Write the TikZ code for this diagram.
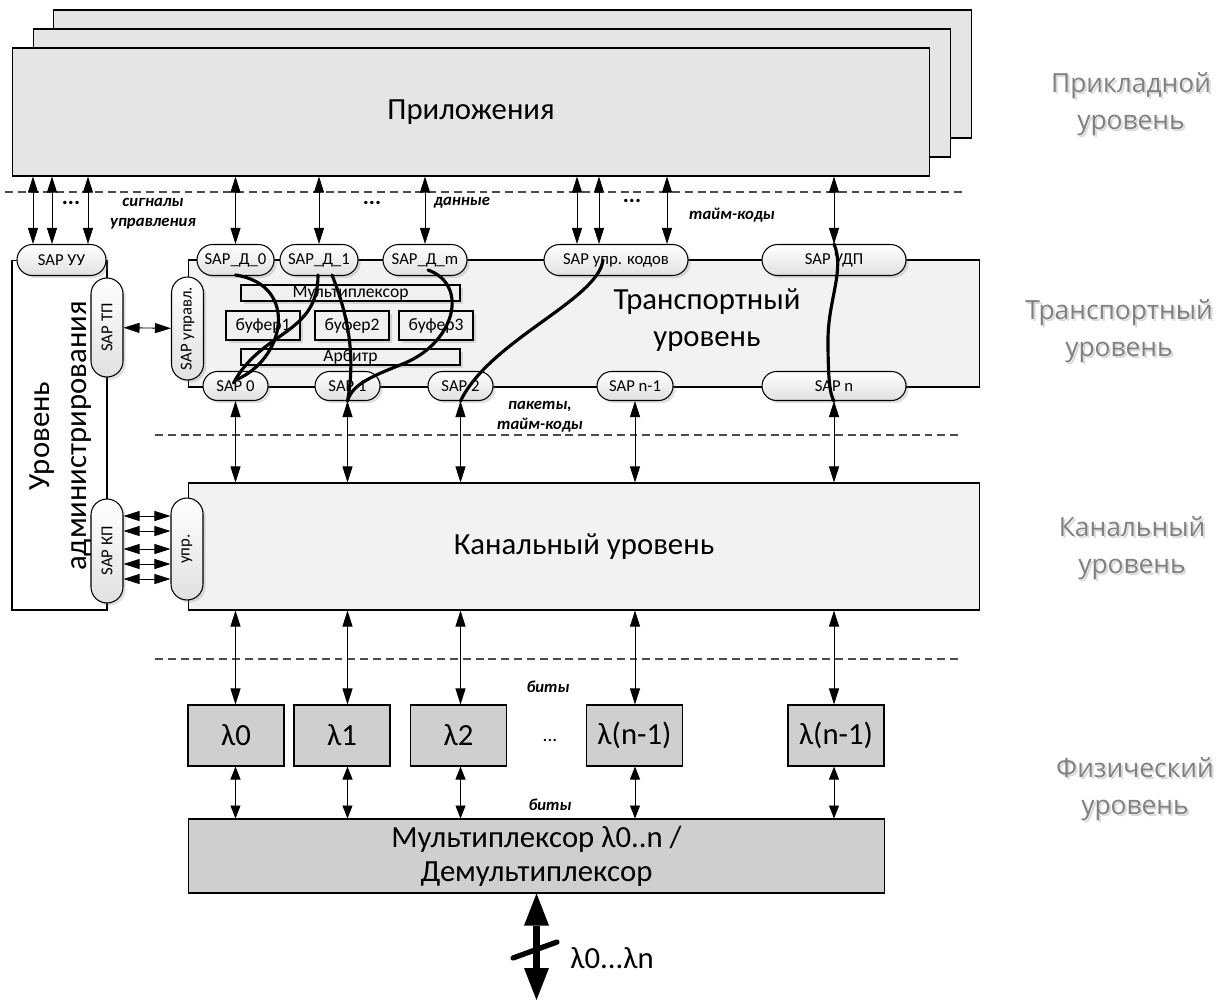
\documentclass[tikz,border=0pt]{standalone}
\usepackage{fontspec}
\setmainfont{Carlito}
\newfontfamily\lvlfont{Open Sans}
\usetikzlibrary{calc,arrows.meta,shapes.misc,shadows}

\begin{document}
\begin{tikzpicture}[
  x=0.02cm, y=-0.02cm,
  >={Triangle[length=0.32cm,width=0.2cm]},
  box/.style={rectangle, draw=black, line width=0.6pt, inner sep=0pt},
  appbox/.style={box, fill=black!10, minimum width=18.36cm, minimum height=2.56cm},
  layer/.style={box, fill=black!5, minimum width=15.84cm, minimum height=2.54cm},
  big/.style={font=\fontsize{17.5}{21}\selectfont},
  sap/.style={rounded rectangle, draw=black, line width=0.6pt, inner sep=0pt,
    top color=white, bottom color=black!12, minimum height=0.62cm,
    font=\fontsize{9.5}{11}\selectfont,
    drop shadow={opacity=0.25, shadow xshift=1.5pt, shadow yshift=-1.5pt}},
  vsap/.style={sap, rotate=90, minimum height=0.64cm},
  inbox/.style={box, fill=black!6, font=\fontsize{10}{12}\selectfont,
    drop shadow={opacity=0.25, shadow xshift=1.5pt, shadow yshift=-1.5pt}},
  thinbox/.style={inbox, minimum width=4.38cm, minimum height=0.32cm, text height=5pt, text depth=0pt},
  bufbox/.style={inbox, minimum width=1.48cm, minimum height=0.58cm},
  lam/.style={box, big, fill=black!19, minimum width=1.92cm, minimum height=1.22cm},
  darr/.style={<->, line width=0.5pt},
  sarr/.style={<->, line width=0.5pt, >={Triangle[length=0.26cm,width=0.2cm]}},
  fatarr/.style={<->, line width=4.5pt, >={Triangle[length=0.64cm,width=0.5cm,line width=0pt]}},
  sep/.style={draw=black!70, line width=0.6pt, dash pattern=on 4.5pt off 2.8pt},
  wire/.style={line width=1.8pt, line cap=round},
  note/.style={font=\fontsize{9.5}{11.5}\selectfont\bfseries\itshape, align=center, inner sep=0pt},
  dots/.style={font=\fontsize{13}{15}\selectfont\bfseries, inner sep=0pt},
  lvl/.style={text=black!50, font=\lvlfont\fontsize{15}{21}\selectfont, align=center},
  lvlsh/.style={lvl, text=black!15},
]
\useasboundingbox (0,0) rectangle (1222,1001);

% ------------------------------------------------------------------
% application layer
% ------------------------------------------------------------------
\node[appbox] (app3) at (512.5,74) {};
\node[appbox] (app2) at (492,93) {};
\node[appbox, big] (app) at (471,112) {Приложения};

% separators between the layers
\draw[sep] (5,192) -- (965,192);
\draw[sep] (155,435) -- (958,435);
\draw[sep] (155,659) -- (958,659);

% ------------------------------------------------------------------
% transport, admin and channel layers
% ------------------------------------------------------------------
\node[layer] (trans) at (584,323.5) {};
\node[box, fill=white, minimum width=1.9cm, minimum height=7cm] (admin) at (59.5,435) {};
\node[layer, big] (chan) at (584,546.5) {Канальный уровень};

\node[big, align=center] (trtext) at (707,320) {Транспортный\\уровень};
\node[big, align=center, rotate=90] (admtext) at (61,436) {Уровень\\администрирования};

% inner blocks of the transport layer
\node[thinbox] (muxin) at (350.5,293) {Мультиплексор};
\node[bufbox] (buf1) at (263,325.5) {буфер1};
\node[bufbox] (buf2) at (352,325.5) {буфер2};
\node[bufbox] (buf3) at (436,325.5) {буфер3};
\node[thinbox] (arb) at (350.5,357) {Арбитр};

% service access points, upper row
\node[sap, minimum width=1.78cm] (sapuu) at (61.5,260) {SAP УУ};
\node[sap, minimum width=1.54cm] (sapd0) at (235.5,260) {SAP\_Д\_0};
\node[sap, minimum width=1.56cm] (sapd1) at (319,260) {SAP\_Д\_1};
\node[sap, minimum width=1.68cm] (sapdm) at (425,260) {SAP\_Д\_m};
\node[sap, minimum width=2.88cm] (sapkod) at (616,260) {SAP упр. кодов};
\node[sap, minimum width=2.88cm] (sapudp) at (834,260) {SAP УДП};

% service access points, lower row
\node[sap, minimum width=1.3cm, minimum height=0.58cm] (sap0) at (235.5,386) {SAP 0};
\node[sap, minimum width=1.3cm, minimum height=0.58cm] (sap1) at (347.5,386) {SAP 1};
\node[sap, minimum width=1.3cm, minimum height=0.58cm] (sap2) at (460.5,386) {SAP 2};
\node[sap, minimum width=1.52cm, minimum height=0.58cm] (sapn1) at (635,386) {SAP n-1};
\node[sap, minimum width=2.88cm, minimum height=0.58cm] (sapn) at (834,386) {SAP n};

% vertical access points
\node[vsap, minimum width=2.06cm] (sapupr) at (187.5,328.5) {SAP управл.};
\node[vsap, minimum width=1.98cm] (saptp) at (107,327.5) {SAP ТП};
\node[vsap, minimum width=2.08cm] (sapkp) at (107,551) {SAP КП};
\node[vsap, minimum width=2.04cm] (upr) at (187,549) {упр.};

% ------------------------------------------------------------------
% physical layer
% ------------------------------------------------------------------
\node[lam] (lam0) at (236,735.5) {λ0};
\node[lam] (lam1) at (342,735.5) {λ1};
\node[lam] (lam2) at (458.5,735.5) {λ2};
\node[lam] (lamn1) at (634.5,735.5) {λ(n-1)};
\node[lam] (lamn) at (836,735.5) {λ(n-1)};
\node[font=\fontsize{11}{13}\selectfont] (dotslam) at (550,740) {...};

\node[box, big, fill=black!19, minimum width=13.94cm, minimum height=1.48cm,
      align=center, font=\fontsize{17.5}{19.5}\selectfont] (demux) at (536.5,856)
      {Мультиплексор λ0..n /\\Демультиплексор};
\coordinate (fiber) at (536.5,1000);
\coordinate (cut) at (535,950);

% ------------------------------------------------------------------
% arrows
% ------------------------------------------------------------------
\foreach \xx in {33,52,88}
  \draw[darr] (app.south -| \xx,0) -- (sapuu.north -| \xx,0);
\foreach \s in {sapd0,sapd1,sapdm,sapudp}
  \draw[darr] (app.south -| \s.north) -- (\s.north);
\foreach \xx in {577,599,667}
  \draw[darr] (app.south -| \xx,0) -- (sapkod.north -| \xx,0);

\foreach \s in {sap0,sap1,sap2,sapn1,sapn}
  \draw[darr] (\s.south) -- (chan.north -| \s.south);
\foreach \s/\l in {sap0/lam0,sap1/lam1,sap2/lam2,sapn1/lamn1,sapn/lamn} {
  \draw[darr] (chan.south -| \s.south) -- (\l.north -| \s.south);
  \draw[sarr] (\l.south -| \s.south) -- (demux.north -| \s.south);
}

\draw[darr] (saptp) -- (sapupr);
\foreach \yy in {516,531,549,564,579}
  \draw[darr] (sapkp.south |- 0,\yy) -- (upr.north |- 0,\yy);

\draw[fatarr] (demux.south) -- (fiber);
\draw[line width=3pt, line cap=round] ($(cut)+(-22,8)$) -- ($(cut)+(22,-8)$);
\node[big] (lblfiber) at (612,958) {λ0...λn};

% connections through the transport layer
\draw[wire] ($(sapd0.center)+(0,15)$) .. controls (300,285) and (285,360) .. ($(sap0.center)+(0,-6)$);
\draw[wire] ($(sapd1.center)+(-1,15)$) .. controls (318,335) and (262,330) .. ($(sap0.center)+(-2,-3)$);
\draw[wire] ($(sapd1.center)+(13,15)$) .. controls (350,320) and (355,360) .. (sap1.south);
\draw[wire] ($(sapdm.center)+(3,10)$) .. controls (470,285) and (455,345) .. (400,365)
  .. controls (370,377) and (352,385) .. (sap1.south);
\draw[wire] ($(sapkod.center)+(-13,0)$) .. controls (598,300) and (490,340) .. (sap2.south);
\draw[wire] (sapudp.north) .. controls (845,270) and (828,300) .. (828,340)
  .. controls (828,380) and (830,395) .. (sapn.south);

% ------------------------------------------------------------------
% labels
% ------------------------------------------------------------------
\node[dots] (dots1) at (71,203) {...};
\node[dots] (dots2) at (372,203) {...};
\node[dots] (dots3) at (632,201) {...};
\node[note] (lblsig) at (153,214) {сигналы\\управления};
\node[note] (lbldata) at (462,203) {данные};
\node[note] (lbltime) at (732,215) {тайм-коды};
\node[note] (lblpack) at (540,417) {пакеты,\\тайм-коды};
\node[note] (lblbit1) at (548,687) {биты};
\node[note] (lblbit2) at (550,805) {биты};

\node[lvlsh] at (1133,106) {Прикладной\\уровень};
\node[lvl] (lvlapp) at (1131,104) {Прикладной\\уровень};
\node[lvlsh] at (1121,333) {Транспортный\\уровень};
\node[lvl] (lvltr) at (1119,331) {Транспортный\\уровень};
\node[lvlsh] at (1134,550.5) {Канальный\\уровень};
\node[lvl] (lvlch) at (1132,548.5) {Канальный\\уровень};
\node[lvlsh] at (1137,791.5) {Физический\\уровень};
\node[lvl] (lvlph) at (1135,789.5) {Физический\\уровень};
\end{tikzpicture}
\end{document}
